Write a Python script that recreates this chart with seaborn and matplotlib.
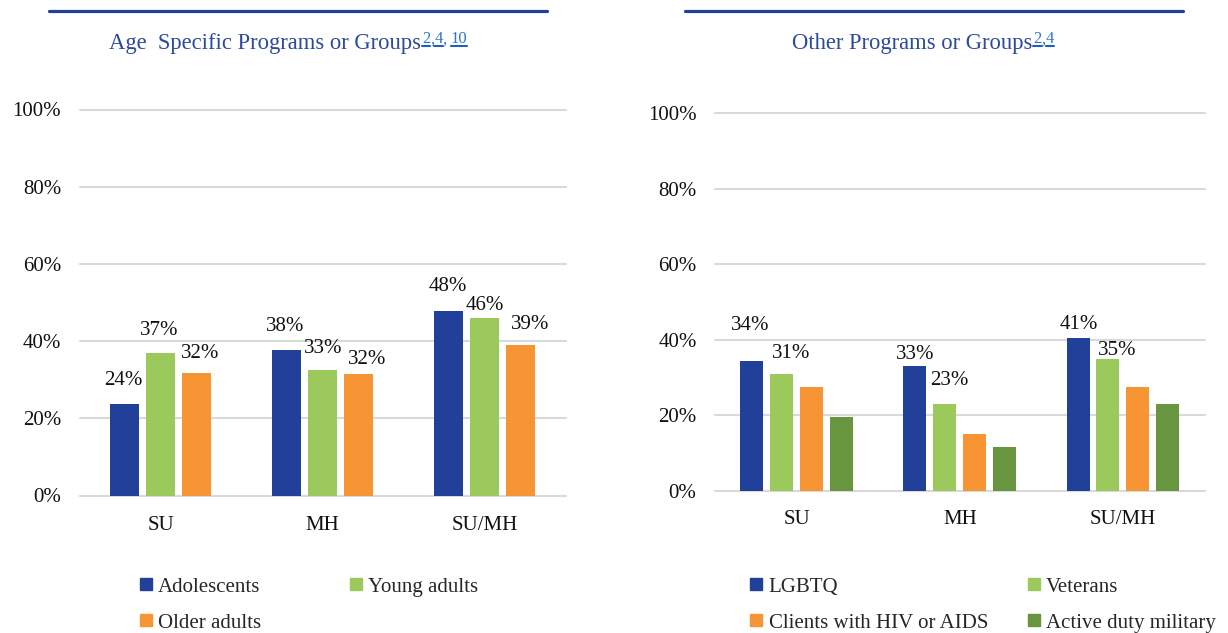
import matplotlib
matplotlib.use('Agg')
import matplotlib.pyplot as plt
import seaborn as sns
import pandas as pd
from matplotlib.lines import Line2D

# ---------------- data ----------------
categories = ['SU', 'MH', 'SU/MH']

age_series = ['Adolescents', 'Young adults', 'Older adults']
adolescents = [23.6, 37.8, 47.7]
young_adults = [36.8, 32.6, 46.0]
older_adults = [31.8, 31.6, 38.9]

other_series = ['LGBTQ', 'Veterans', 'Clients with HIV or AIDS', 'Active duty military']
lgbtq = [34.4, 33.1, 40.6]
veterans = [30.9, 23.0, 34.9]
hiv_aids = [27.5, 15.1, 27.5]
active_duty = [19.7, 11.7, 23.0]

y_ticks = [0, 20, 40, 60, 80, 100]
y_tick_labels = ['0%', '20%', '40%', '60%', '80%', '100%']

left_title = 'Age  Specific Programs or Groups'
left_refs = ['2', ',', '4', ', ', '10']
right_title = 'Other Programs or Groups'
right_refs = ['2', ',', '4']

# ---------------- style ----------------
BLUE = '#21409A'
LGREEN = '#9BC95B'
ORANGE = '#F79433'
DGREEN = '#68963F'
TITLE_C = '#2D4A9B'
REF_C = '#2E74CF'
GRID_C = '#D9D9D9'

sns.set_style('white')
plt.rcParams['font.family'] = ['Liberation Serif', 'DejaVu Serif']

W, H = 1228, 633
fig = plt.figure(figsize=(W / 100, H / 100), dpi=100)


def px2fig(x, y):
    return x / W, 1 - y / H


def make_panel(rect, names, values, colors, width, gap, labeled, nudges, pad_cat):
    ax = fig.add_axes(rect)
    rows = []
    for n, vals in zip(names, values):
        for c, v in zip(categories, vals):
            rows.append({'cat': c, 'series': n, 'val': v})
    df = pd.DataFrame(rows)
    sns.barplot(data=df, x='cat', y='val', hue='series', order=categories,
                hue_order=names, palette=colors, width=width, gap=gap,
                linewidth=0, saturation=1, ax=ax, legend=False, errorbar=None)
    ax.set_ylim(0, 100)
    ax.set_xlim(-0.5, len(categories) - 0.5)
    ax.set_yticks(y_ticks)
    ax.set_yticklabels(y_tick_labels)
    ax.set_xlabel('')
    ax.set_ylabel('')
    for s in ax.spines.values():
        s.set_visible(False)
    ax.yaxis.grid(True, color=GRID_C, linewidth=1.5)
    ax.set_axisbelow(True)
    ax.tick_params(axis='y', length=0, pad=13.3, labelsize=15, colors='#111111')
    ax.tick_params(axis='x', length=0, pad=pad_cat, labelsize=15, colors='#111111')
    for gl in ax.get_ygridlines():
        gl.set_clip_on(False)
    for i, cont in enumerate(ax.containers):
        if not labeled[i]:
            continue
        for j, bar in enumerate(cont):
            h = bar.get_height()
            dx, dy = nudges[i][j]
            ax.annotate(f'{round(h)}%', xy=(bar.get_x() + bar.get_width() / 2, h),
                        xytext=(dx * 0.72, dy * 0.72), textcoords='offset points',
                        ha='center', va='center', fontsize=15, color='#111111')
    return ax


# left panel
lx0, lx1, ly0, ly1 = 79.5, 565.8, 109.5, 495.5
ax1 = make_panel([lx0 / W, 1 - ly1 / H, (lx1 - lx0) / W, (ly1 - ly0) / H],
                 age_series, [adolescents, young_adults, older_adults],
                 [BLUE, LGREEN, ORANGE], 0.663, 0.19, [True, True, True],
                 [[(-1, 24), (-2, 23), (-1, 25)],
                  [(-1, 23), (1, 21), (0, 12)],
                  [(4, 19), (9, 14), (9.5, 21)]], 14.5)

# right panel
rx0, rx1, ry0, ry1 = 715, 1204.5, 113.3, 491
ax2 = make_panel([rx0 / W, 1 - ry1 / H, (rx1 - rx0) / W, (ry1 - ry0) / H],
                 other_series, [lgbtq, veterans, hiv_aids, active_duty],
                 [BLUE, LGREEN, ORANGE, DGREEN], 0.733, 0.23,
                 [True, True, False, False],
                 [[(-2, 36), (0, 11), (1, 13)],
                  [(9, 21), (5, 24), (9, 9)],
                  [(0, 0)] * 3, [(0, 0)] * 3], 14.0)

# top rules
for xa, xb in [(49, 547), (685, 1183)]:
    (fa, fy), (fb, _) = px2fig(xa, 10.5), px2fig(xb, 10.5)
    fig.add_artist(Line2D([fa, fb], [fy, fy], color=BLUE, linewidth=2.3,
                          transform=fig.transFigure))

# titles with underlined reference superscripts
renderer = fig.canvas.get_renderer()


def title_with_refs(x_px, text, refs):
    fx, fy = px2fig(x_px, 49.5)
    t = fig.text(fx, fy, text, fontsize=16.3, color=TITLE_C, va='baseline', ha='left')
    bb = t.get_window_extent(renderer)
    cur = bb.x1 + 1
    _, sy = px2fig(0, 43.3)
    for piece in refs:
        st = fig.text(cur / W, sy, piece, fontsize=12, color=REF_C, va='baseline', ha='left')
        sb = st.get_window_extent(renderer)
        if piece.strip(', ') != '':
            uy = 1 - 45.5 / H
            fig.add_artist(Line2D([sb.x0 / W, sb.x1 / W], [uy, uy], color='#1F5FBF',
                                  linewidth=1.5, transform=fig.transFigure))
        cur = sb.x1


title_with_refs(108.8, left_title, left_refs)
title_with_refs(792, right_title, right_refs)


# legends (entries filled row by row, two per row)
def legend_for(names, colors, x_px, colspace):
    handles = [Line2D([], [], marker='s', linestyle='', markersize=8.3, color=c)
               for c in colors]
    order = list(range(0, len(names), 2)) + list(range(1, len(names), 2))
    fx, fy = px2fig(x_px, 577)
    fig.legend([handles[k] for k in order], [names[k] for k in order],
               loc='upper left', bbox_to_anchor=(fx, fy),
               ncol=2, frameon=False, fontsize=15, handlelength=0.55,
               handletextpad=0.32, columnspacing=colspace, labelspacing=0.79,
               borderpad=0, borderaxespad=0)


legend_for(age_series, [BLUE, LGREEN, ORANGE], 140, 4.25)
legend_for(other_series, [BLUE, LGREEN, ORANGE, DGREEN], 750.5, 1.92)

fig.savefig('out.png', dpi=100)
